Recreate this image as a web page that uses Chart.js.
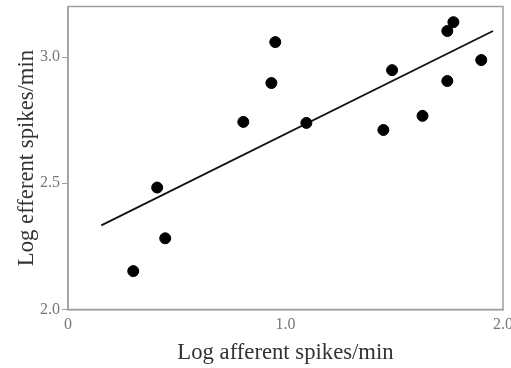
<!DOCTYPE html>
<html>
<head>
<meta charset="utf-8">
<script src="https://cdn.jsdelivr.net/npm/chart.js@4/dist/chart.umd.min.js"></script>
<style>
html,body{margin:0;padding:0;background:#fff;}
canvas{display:block;}
</style>
</head>
<body>
<canvas id="c" width="511" height="368" style="width:511px;height:368px"></canvas>
<script>
// Data
const afferent = [0.30, 0.41, 0.447, 0.806, 0.935, 0.953, 1.096, 1.45, 1.49, 1.63, 1.744, 1.744, 1.772, 1.90];
const efferent = [2.152, 2.483, 2.282, 2.743, 2.897, 3.059, 2.739, 2.711, 2.948, 2.767, 2.905, 3.103, 3.138, 2.988];
const fitX = [0.153, 1.954];
const fitY = [2.333, 3.103];
const xTickLabels = {0: '0', 1: '1.0', 2: '2.0'};
const yTickLabels = {2: '2.0', 2.5: '2.5', 3: '3.0'};
const xTitle = 'Log afferent spikes/min';
const yTitle = 'Log efferent spikes/min';

const points = afferent.map((x, i) => ({x: x, y: efferent[i]}));
const fitLine = fitX.map((x, i) => ({x: x, y: fitY[i]}));

const frame = {
  id: 'frame',
  afterDatasetsDraw(chart) {
    const a = chart.chartArea, ctx = chart.ctx;
    ctx.save();
    ctx.strokeStyle = '#a0a0a0';
    ctx.lineWidth = 1.5;
    ctx.strokeRect(a.left, a.top, a.right - a.left, a.bottom - a.top);
    ctx.restore();
  }
};

new Chart(document.getElementById('c'), {
  type: 'scatter',
  data: {
    datasets: [
      {data: points, backgroundColor: '#000', borderColor: '#000', pointRadius: 5.5, pointHoverRadius: 5.5, order: 1},
      {type: 'line', data: fitLine, showLine: true, borderColor: '#111', borderWidth: 1.8, pointRadius: 0, fill: false, order: 2}
    ]
  },
  options: {
    responsive: false,
    animation: false,
    devicePixelRatio: 1,
    layout: {padding: {left: 13, right: 8, top: 5, bottom: 1}},
    plugins: {legend: {display: false}, tooltip: {enabled: false}},
    scales: {
      x: {
        type: 'linear', min: 0, max: 2,
        ticks: {stepSize: 1, padding: 6, color: '#777', font: {family: 'Liberation Serif', size: 16},
          callback: v => xTickLabels[v] !== undefined ? xTickLabels[v] : ''},
        grid: {display: true, drawOnChartArea: false, drawTicks: false},
        border: {display: true, color: '#a0a0a0', width: 1.5},
        title: {display: true, text: xTitle, color: '#333', font: {family: 'Liberation Serif', size: 22.7}, padding: 0},
        afterFit: s => { s.height = 57.5; s.paddingLeft = 0; s.paddingRight = 0; }
      },
      y: {
        type: 'linear', min: 2.0, max: 3.2,
        ticks: {stepSize: 0.5, includeBounds: false, padding: 2, color: '#777', font: {family: 'Liberation Serif', size: 16},
          callback: v => yTickLabels[v] !== undefined ? yTickLabels[v] : ''},
        grid: {display: true, drawOnChartArea: false, drawTicks: true, tickLength: 6, color: '#a0a0a0'},
        border: {display: true, color: '#a0a0a0', width: 1.5},
        title: {display: true, text: yTitle, color: '#333', font: {family: 'Liberation Serif', size: 22.7}, padding: 0},
        afterFit: s => { s.width = 55; s.paddingTop = 0; s.paddingBottom = 0; }
      }
    }
  },
  plugins: [frame]
});
</script>
</body>
</html>
